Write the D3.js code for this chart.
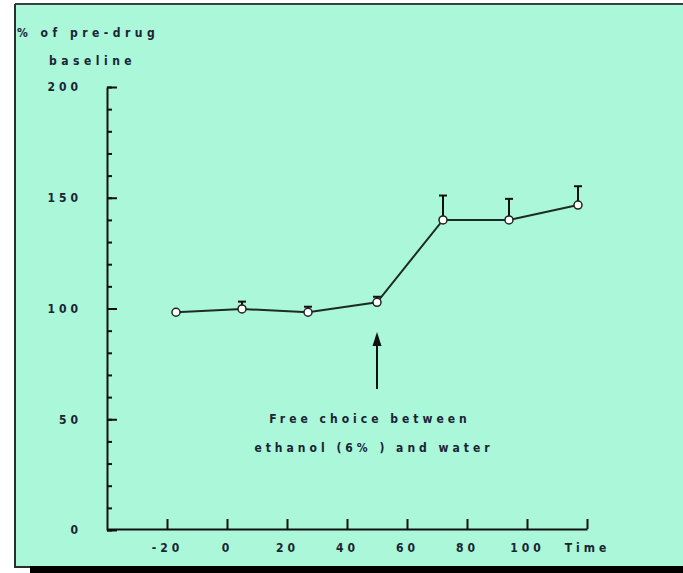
<!DOCTYPE html>
<html>
<head>
<meta charset="utf-8">
<script src="https://cdn.jsdelivr.net/npm/d3@7"></script>
<style>
  body { margin: 0; background: #fff; }
  text { font-family: "Liberation Sans Narrow", "DejaVu Sans Condensed", sans-serif; font-weight: bold; fill: #1b2433; }
</style>
</head>
<body>
<div id="chart"></div>
<script>
// values (x as placed on the time axis)
var times = [-17, 5, 27, 50, 72, 94, 117];
var pct = [98.3, 99.8, 98.3, 102.8, 140, 140, 146.7];
var sem = [0, 3.3, 2.5, 2.5, 11, 9.5, 8.5];

var xTicks = [-20, 0, 20, 40, 60, 80, 100, 120];
var yTicks = [0, 50, 100, 150, 200];
var yMinor = d3.range(0, 201, 10);

var svgWidth = 683;
var svgHeight = 573;

var svg = d3.select("#chart")
    .append("svg")
    .attr("width", svgWidth)
    .attr("height", svgHeight);

// mint panel + frame
svg.append("rect")
    .attr("x", 15).attr("y", 4)
    .attr("width", svgWidth - 15).attr("height", 564)
    .attr("fill", "#aaf7d9");
svg.append("line")
    .attr("x1", 15).attr("y1", 4).attr("x2", svgWidth).attr("y2", 4)
    .attr("stroke", "#3a4040").attr("stroke-width", 2);
svg.append("line")
    .attr("x1", 15).attr("y1", 4).attr("x2", 15).attr("y2", 568)
    .attr("stroke", "#2a3030").attr("stroke-width", 2);
svg.append("line")
    .attr("x1", 15).attr("y1", 567).attr("x2", 30).attr("y2", 567)
    .attr("stroke", "#2a3030").attr("stroke-width", 2);
svg.append("rect")
    .attr("x", 30).attr("y", 566)
    .attr("width", svgWidth - 30).attr("height", 7)
    .attr("fill", "#000");

var x = d3.scaleLinear().domain([-40, 120]).range([107, 587]);
var y = d3.scaleLinear().domain([0, 200]).range([530, 87]);

// y axis: major ticks with labels, minor ticks every 10
svg.append("g")
    .attr("transform", "translate(107,0)")
    .call(d3.axisLeft(y).tickValues(yMinor).tickSizeInner(-5).tickSizeOuter(0).tickFormat(""))
    .call(g => g.selectAll("line").attr("stroke", "#111").attr("stroke-width", 2))
    .call(g => g.select(".domain").attr("stroke", "#111").attr("stroke-width", 2));

svg.append("g")
    .attr("transform", "translate(107,0)")
    .call(d3.axisLeft(y).tickValues(yTicks).tickSizeInner(-10).tickSizeOuter(0).tickPadding(25))
    .call(g => g.select(".domain").remove())
    .call(g => g.selectAll("line").attr("stroke", "#111").attr("stroke-width", 2))
    .call(g => g.selectAll("text").attr("font-size", 12).attr("letter-spacing", "4px")
        .attr("font-family", null).attr("fill", null));

// x axis
svg.append("g")
    .attr("transform", "translate(0,529)")
    .call(d3.axisBottom(x).tickValues(xTicks).tickSizeInner(-10).tickSizeOuter(0).tickPadding(14)
        .tickFormat(d => d === 120 ? "Time" : d))
    .call(g => g.select(".domain").attr("stroke", "#111").attr("stroke-width", 2))
    .call(g => g.selectAll("line").attr("stroke", "#111").attr("stroke-width", 2))
    .call(g => g.selectAll("text").attr("font-size", 12).attr("letter-spacing", "4px")
        .attr("font-family", null).attr("fill", null));

// y title
svg.append("text").attr("x", 17).attr("y", 37)
    .attr("font-size", 12).attr("letter-spacing", "4.5px")
    .text("%  of pre-drug");
svg.append("text").attr("x", 49).attr("y", 65)
    .attr("font-size", 12).attr("letter-spacing", "4.5px")
    .text("baseline");

var data = times.map((t, i) => ({ t: t, v: pct[i], e: sem[i] }));

// error bars (upper only)
var err = svg.append("g").selectAll("g")
    .data(data.filter(d => d.e > 0))
    .enter().append("g");
err.append("line")
    .attr("x1", d => x(d.t)).attr("x2", d => x(d.t))
    .attr("y1", d => y(d.v)).attr("y2", d => y(d.v + d.e))
    .attr("stroke", "#111").attr("stroke-width", 2);
err.append("line")
    .attr("x1", d => x(d.t) - 4).attr("x2", d => x(d.t) + 4)
    .attr("y1", d => y(d.v + d.e)).attr("y2", d => y(d.v + d.e))
    .attr("stroke", "#111").attr("stroke-width", 2);

var line = d3.line().x(d => x(d.t)).y(d => y(d.v));
svg.append("path")
    .datum(data)
    .attr("d", line)
    .attr("fill", "none")
    .attr("stroke", "#1e2a26")
    .attr("stroke-width", 2);

svg.append("g").selectAll("circle")
    .data(data)
    .enter().append("circle")
    .attr("cx", d => x(d.t))
    .attr("cy", d => y(d.v))
    .attr("r", 4)
    .attr("fill", "#fff")
    .attr("stroke", "#222")
    .attr("stroke-width", 1.5);

// arrow + annotation
var ax = x(50);
svg.append("line")
    .attr("x1", ax).attr("x2", ax)
    .attr("y1", 389).attr("y2", 343)
    .attr("stroke", "#111").attr("stroke-width", 2);
svg.append("path")
    .attr("d", `M${ax},332 L${ax - 4.5},346 L${ax + 4.5},346 Z`)
    .attr("fill", "#111");

svg.append("text").attr("x", 370).attr("y", 423)
    .attr("text-anchor", "middle")
    .attr("font-size", 12).attr("letter-spacing", "4px")
    .text("Free choice between");
svg.append("text").attr("x", 374).attr("y", 452)
    .attr("text-anchor", "middle")
    .attr("font-size", 12).attr("letter-spacing", "4px")
    .text("ethanol (6% ) and water");
</script>
</body>
</html>
